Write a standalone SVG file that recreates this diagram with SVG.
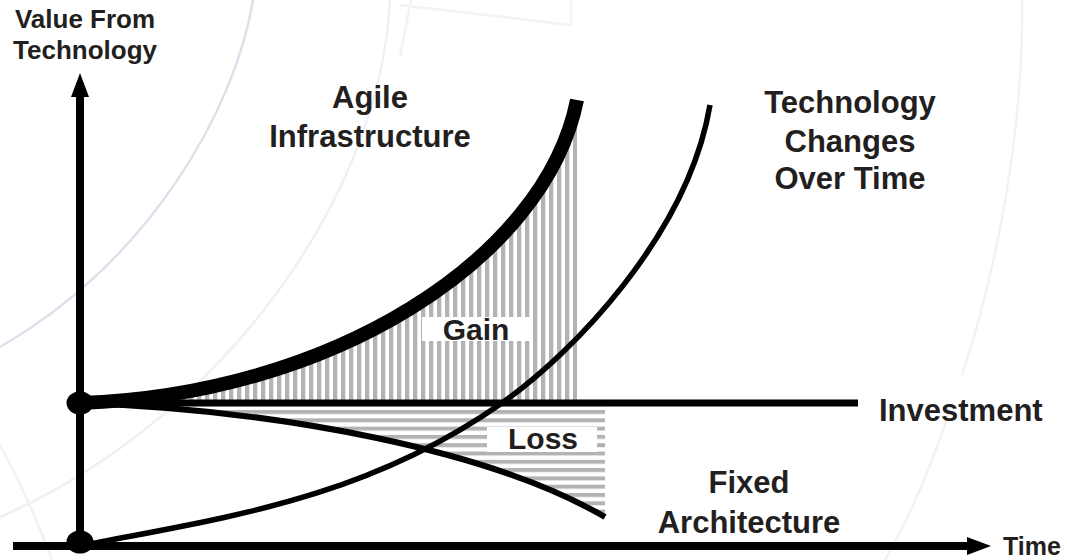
<svg xmlns="http://www.w3.org/2000/svg" width="1067" height="560" viewBox="0 0 1067 560">
  <defs>
    <style>
      .lbl { font-family: "Liberation Sans", Arial, sans-serif; font-weight: bold; fill: #231f20; }
      .big { font-size: 31px; text-anchor: middle; }
      .wm { fill: none; stroke-width: 2.5; }
      .ln { fill: none; stroke: #000; }
    </style>
    <pattern id="vstripes" patternUnits="userSpaceOnUse" x="5" y="0" width="8" height="8">
      <rect x="0" y="0" width="4.3" height="8" fill="#b3b3b3"/>
    </pattern>
    <pattern id="hstripes" patternUnits="userSpaceOnUse" x="0" y="410" width="8" height="8.3">
      <rect x="0" y="0" width="8" height="4" fill="#b3b3b3"/>
    </pattern>
    <marker id="arrow" viewBox="0 0 24 18" refX="0" refY="9" markerWidth="24" markerHeight="18" markerUnits="userSpaceOnUse" orient="auto">
      <path d="M0,0 L24,9 L0,18 Z" fill="#000"/>
    </marker>
  </defs>
  <rect width="1067" height="560" fill="#fff"/>

  <g id="watermark">
    <path class="wm" stroke="#e2deec" stroke-width="3" d="M253,0 C235,110 150,260 0,347"/>
    <path class="wm" stroke="#f0eff3" d="M390,0 C380,200 220,420 0,517"/>
    <path class="wm" stroke="#f1f1f3" d="M0,445 Q30,500 52,560"/>
    <path class="wm" stroke="#f3f3f3" d="M411,0 Q405,30 400,57 M400,5 L571,25 L571,0"/>
    <path class="wm" stroke="#f2f2f2" d="M1022,0 C1024,120 1000,260 962,375 M950,410 C930,470 908,520 885,560"/>
  </g>

  <g id="gain-area">
    <path d="M80,403 C330,395 545,260 577,100 L577,403 Z" fill="url(#vstripes)"/>
    <rect x="422" y="317" width="108" height="24" fill="#fff"/>
  </g>
  <g id="loss-area">
    <path d="M80,403 C280,410 490,450 605,517 L605,403 Z" fill="url(#hstripes)"/>
    <rect x="487" y="427" width="110" height="25" fill="#fff"/>
  </g>

  <g id="connectors">
    <line id="y-axis" class="ln" x1="80" y1="546" x2="80" y2="97" stroke-width="8" marker-end="url(#arrow)"/>
    <line id="x-axis" class="ln" x1="13" y1="546" x2="967" y2="546" stroke-width="8" marker-end="url(#arrow)"/>
    <line id="investment-line" class="ln" x1="80" y1="403" x2="858" y2="403" stroke-width="7"/>
    <path id="fixed-curve" class="ln" d="M80,403 C280,410 490,450 605,517" stroke-width="6"/>
    <path id="tech-curve" class="ln" d="M80,546 C220,518 362,501 502,403 C572,354 688,235 710,105" stroke-width="5.5"/>
    <path id="agile-curve" class="ln" d="M80,403 C330,395 545,260 577,100" stroke-width="14"/>
  </g>

  <g id="origin-dots">
    <ellipse cx="80" cy="403" rx="13.5" ry="11.5" fill="#000"/>
    <ellipse cx="80" cy="542" rx="13.5" ry="11.5" fill="#000"/>
  </g>

  <g id="label-y-axis">
    <text class="lbl" x="85" y="28" font-size="26" text-anchor="middle">Value From</text>
    <text class="lbl" x="85" y="59" font-size="26" text-anchor="middle">Technology</text>
  </g>
  <g id="label-agile">
    <text class="lbl big" x="370" y="108">Agile</text>
    <text class="lbl big" x="370" y="147">Infrastructure</text>
  </g>
  <g id="label-tech">
    <text class="lbl big" x="850" y="113">Technology</text>
    <text class="lbl big" x="850" y="152">Changes</text>
    <text class="lbl big" x="850" y="189">Over Time</text>
  </g>
  <g id="label-investment">
    <text class="lbl" x="879" y="421" font-size="31">Investment</text>
  </g>
  <g id="label-fixed">
    <text class="lbl big" x="749" y="493">Fixed</text>
    <text class="lbl big" x="749" y="533">Architecture</text>
  </g>
  <g id="label-gain">
    <text class="lbl" x="476" y="340" font-size="30" text-anchor="middle">Gain</text>
  </g>
  <g id="label-loss">
    <text class="lbl" x="543" y="449" font-size="30" text-anchor="middle">Loss</text>
  </g>
  <g id="label-time">
    <text class="lbl" x="1003" y="555" font-size="25">Time</text>
  </g>
</svg>
